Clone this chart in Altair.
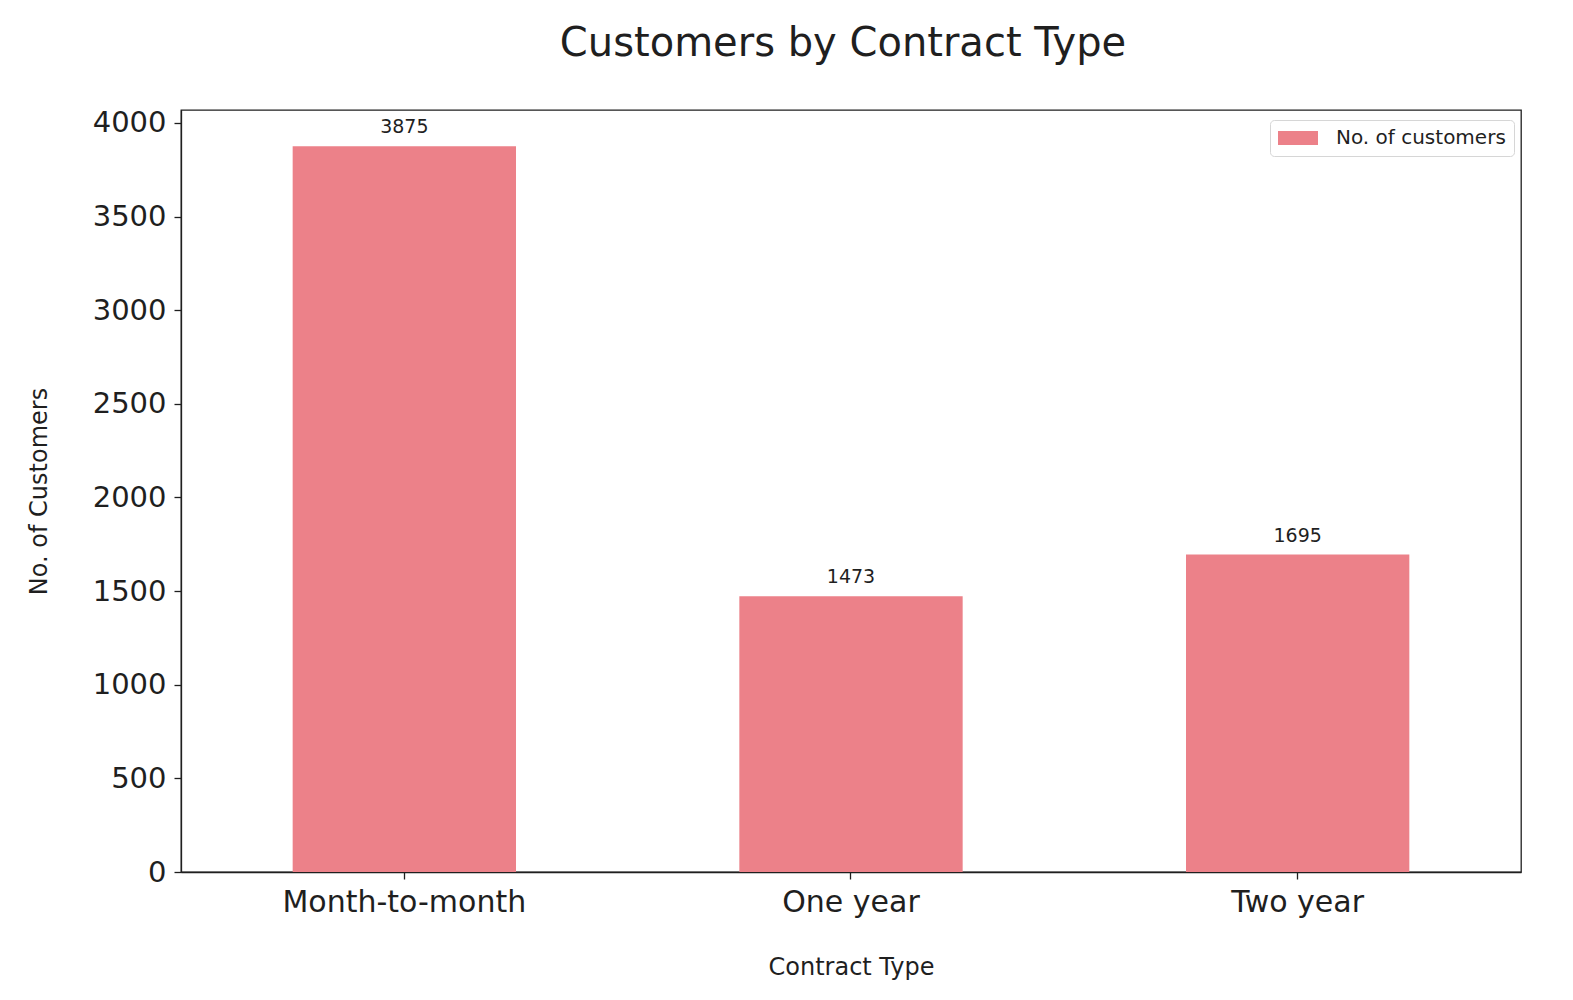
import altair as alt
import pandas as pd

contract_types = ["Month-to-month", "One year", "Two year"]
customers = [3875, 1473, 1695]
series_name = "No. of customers"
y_ticks = [0, 500, 1000, 1500, 2000, 2500, 3000, 3500, 4000]

df = pd.DataFrame({
    "Contract Type": contract_types,
    "customers": customers,
    "series": [series_name] * len(contract_types),
})

FONT = "DejaVu Sans"
INK = "#1f1f1f"
BAR = "#EC8189"

x_enc = alt.X(
    "Contract Type:N",
    sort=contract_types,
    scale=alt.Scale(paddingInner=0.5, paddingOuter=0.25),
    axis=alt.Axis(
        title="Contract Type",
        labelAngle=0,
        labelFontSize=30,
        labelPadding=8,
        labelLimit=0,
        labelColor=INK,
        titleFontSize=24,
        titleFontWeight="normal",
        titleColor=INK,
        titleBaseline="alphabetic",
        titleY=102,
        tickSize=7,
        tickColor=INK,
        domainColor=INK,
        domainWidth=1.3,
        tickWidth=1.3,
    ),
)
y_enc = alt.Y(
    "customers:Q",
    scale=alt.Scale(domain=[0, 4068.75], nice=False, zero=True),
    axis=alt.Axis(
        title="No. of Customers",
        values=y_ticks,
        format="d",
        grid=False,
        labelFontSize=29,
        labelPadding=8,
        labelColor=INK,
        titleFontSize=24,
        titleFontWeight="normal",
        titleColor=INK,
        titleBaseline="alphabetic",
        titleX=-135,
        tickSize=7,
        tickColor=INK,
        domainColor=INK,
        domainWidth=1.3,
        tickWidth=1.3,
    ),
)

bars = alt.Chart(df).mark_bar().encode(
    x=x_enc,
    y=y_enc,
    color=alt.Color(
        "series:N",
        scale=alt.Scale(range=[BAR]),
        legend=alt.Legend(
            title=None,
            orient="none",
            legendX=1089,
            legendY=10,
            padding=8,
            symbolType="M-1,-0.7L3,-0.7L3,0.7L-1,0.7Z",
            symbolSize=400,
            symbolStrokeWidth=0,
            labelOffset=38,
            labelFontSize=20,
            labelLimit=0,
            labelColor=INK,
            strokeColor="#d6d6d6",
            fillColor="white",
            cornerRadius=4,
        ),
    ),
)

labels = alt.Chart(df).mark_text(
    baseline="alphabetic", dy=-13, fontSize=19, color=INK, font=FONT
).encode(
    x=alt.X("Contract Type:N", sort=contract_types),
    y=alt.Y("customers:Q"),
    text=alt.Text("customers:Q", format="d"),
)

chart = (
    alt.layer(bars, labels)
    .properties(
        width=1340,
        height=762,
        autosize=alt.AutoSizeParams(type="none"),
        padding={"left": 173, "top": 102, "right": 36, "bottom": 114},
        title=alt.TitleParams(
            "Customers by Contract Type",
            fontSize=40,
            fontWeight="normal",
            color=INK,
            font=FONT,
            anchor="middle",
            baseline="alphabetic",
            offset=13,
            dx=-8,
        ),
    )
    .configure(font=FONT)
    .configure_view(stroke=INK, strokeWidth=1.3)
)

chart.save("out.html", embed_options={"renderer": "svg", "actions": False})
